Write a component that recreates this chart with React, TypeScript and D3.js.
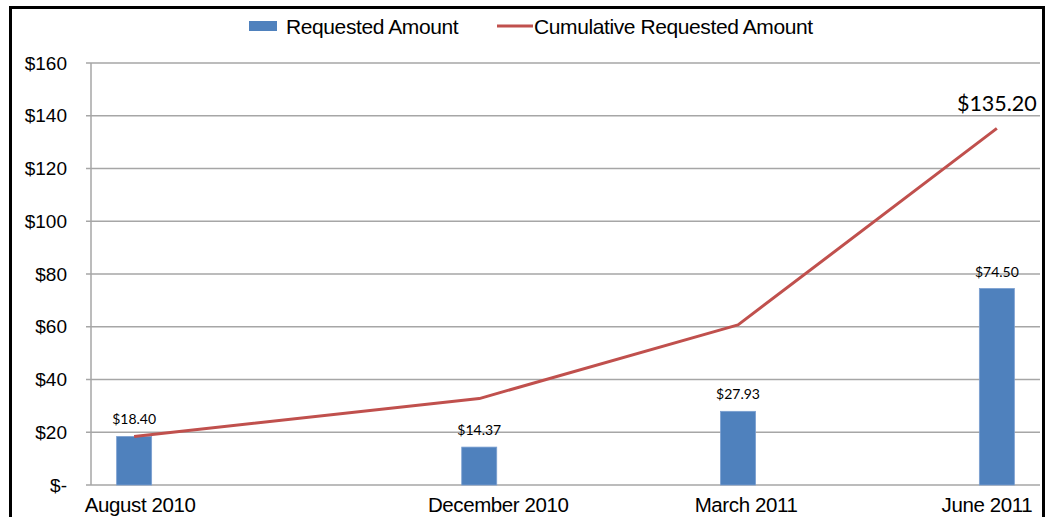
import React, { useMemo } from 'react';
import * as d3 from 'd3';

const MONTHS = ['2010-08', '2010-12', '2011-03', '2011-06'];
const CATEGORIES = ['August 2010', 'December 2010', 'March 2011', 'June 2011'];
const REQUESTED = [18.4, 14.37, 27.93, 74.5];
const Y_TICKS = [0, 20, 40, 60, 80, 100, 120, 140, 160];

const W = 1053;
const H = 517;
const M = { left: 91, right: 1040, top: 63, bottom: 485 };
const BAR_W = 35;
const BLUE = '#4F81BD';
const RED = '#C0504D';
const GRID = '#A6A6A6';
const AXIS_FONT = '"Liberation Sans", Arial, sans-serif';
const LABEL_FONT = 'Lato, "Open Sans", sans-serif';
// Excel nudges the category labels a little
const LABEL_DX = [6, 19, 8, -10];

const parseMonth = d3.timeParse('%Y-%m');
const fmtLabel = (v: number) => `$${v.toFixed(2)}`;
const fmtTick = (v: number) => (v === 0 ? '$-' : `$${v}`);

export default function App() {
  const dates = MONTHS.map((m) => parseMonth(m) as Date);
  const monthIdx = dates.map((d) => d3.timeMonth.count(dates[0], d));
  const cumulative = useMemo(() => d3.cumsum(REQUESTED), []);

  const x = d3
    .scaleLinear()
    .domain([-0.5, monthIdx[monthIdx.length - 1] + 0.5])
    .range([M.left, M.right]);
  const y = d3.scaleLinear().domain([0, 160]).range([M.bottom, M.top]);

  const line = d3
    .line<number>()
    .x((_, i) => x(monthIdx[i]))
    .y((v) => y(v));

  const last = cumulative.length - 1;

  return (
    <svg
      width={W}
      height={H}
      style={{ position: 'absolute', left: 0, top: 0, background: '#fff' }}
    >
      <rect x={10.5} y={7.5} width={1033} height={540} fill="#fff" stroke="#000" strokeWidth={3} />

      {/* legend */}
      <g fontFamily={AXIS_FONT} fontSize={21} fill="#000" letterSpacing={-0.4}>
        <rect x={249} y={21} width={28} height={10} fill={BLUE} />
        <text x={286} y={33.5}>Requested Amount</text>
        <line x1={497} x2={533} y1={26} y2={26} stroke={RED} strokeWidth={3} />
        <text x={534} y={33.5}>Cumulative Requested Amount</text>
      </g>

      {/* grid + y ticks */}
      {Y_TICKS.map((t) => (
        <g key={t}>
          <line x1={M.left - 5} x2={M.right} y1={y(t)} y2={y(t)} stroke={GRID} strokeWidth={1.5} />
          <text
            x={67}
            y={y(t)}
            dy="0.35em"
            textAnchor="end"
            fontFamily={AXIS_FONT}
            fontSize={19}
            fill="#000"
          >
            {fmtTick(t)}
          </text>
        </g>
      ))}
      <line x1={M.left} x2={M.left} y1={M.top} y2={M.bottom} stroke={GRID} strokeWidth={1.5} />

      {/* bars */}
      {REQUESTED.map((v, i) => (
        <g key={CATEGORIES[i]}>
          <rect
            x={x(monthIdx[i]) - BAR_W / 2}
            y={y(v)}
            width={BAR_W}
            height={y(0) - y(v)}
            fill={BLUE}
            stroke="#7b9fd0"
            strokeWidth={0.8}
          />
          <text
            x={x(monthIdx[i])}
            y={y(v) - 12}
            textAnchor="middle"
            fontFamily={LABEL_FONT}
            fontSize={14}
            fill="#000"
          >
            {fmtLabel(v)}
          </text>
          <text
            x={x(monthIdx[i]) + LABEL_DX[i]}
            y={511.5}
            textAnchor="middle"
            fontFamily={AXIS_FONT}
            fontSize={20.5}
            letterSpacing={-0.4}
            fill="#000"
          >
            {CATEGORIES[i]}
          </text>
        </g>
      ))}

      {/* cumulative line */}
      <path d={line(cumulative) ?? ''} fill="none" stroke={RED} strokeWidth={3} strokeLinejoin="round" />
      <text
        x={x(monthIdx[last])}
        y={y(cumulative[last]) - 17}
        textAnchor="middle"
        fontFamily={LABEL_FONT}
        fontSize={21.5}
        fill="#000"
      >
        {fmtLabel(cumulative[last])}
      </text>
    </svg>
  );
}
